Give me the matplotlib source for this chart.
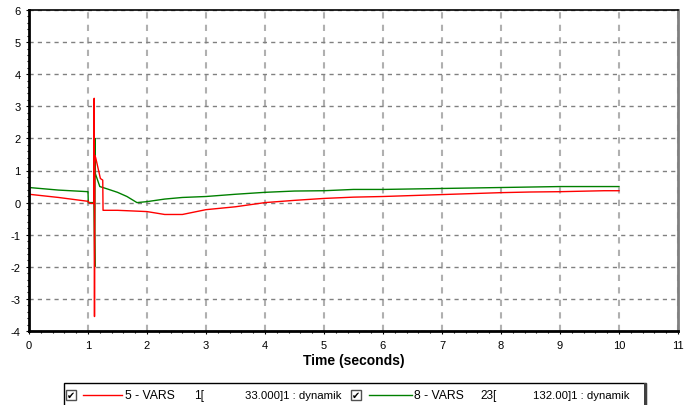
import matplotlib
matplotlib.use("Agg")
import matplotlib.pyplot as plt
from matplotlib.ticker import MultipleLocator
from matplotlib.patches import Rectangle
from matplotlib.lines import Line2D

plt.rcParams['font.family'] = ['Liberation Sans', 'DejaVu Sans']
plt.rcParams['axes.unicode_minus'] = False

# Series 5 - VARS (red)
red_t = [0, 0.5, 1.0, 1.03, 1.1, 1.105, 1.11, 1.115, 1.13, 1.21, 1.25, 1.255, 1.5, 2.0, 2.3,
         2.6, 3.0, 3.5, 4.0, 4.5, 5.0, 5.5, 6.0, 6.5, 7.0, 7.5, 8.0, 8.5, 9.0, 9.75, 10.0]
red_v = [0.26, 0.16, 0.04, -0.02, -0.03, 3.25, -3.55, 1.47, 1.40, 0.75, 0.70, -0.24, -0.24,
         -0.28, -0.37, -0.37, -0.22, -0.13, 0.0, 0.07, 0.13, 0.17, 0.19, 0.22, 0.25, 0.28,
         0.31, 0.33, 0.34, 0.37, 0.37]

# Series 8 - VARS (green)
green_t = [0, 0.5, 1.0, 1.005, 1.1, 1.115, 1.12, 1.125, 1.2, 1.32, 1.5, 1.66, 1.83, 2.0, 2.3,
           2.6, 3.0, 3.5, 4.0, 4.5, 5.0, 5.5, 6.0, 7.0, 8.0, 9.0, 10.0]
green_v = [0.47, 0.39, 0.34, 0.0, 0.0, -2.0, 2.0, 0.9, 0.5, 0.43, 0.32, 0.19, 0.0, 0.03, 0.11,
           0.16, 0.19, 0.26, 0.32, 0.36, 0.37, 0.41, 0.41, 0.44, 0.47, 0.5, 0.5]

x_ticks = list(range(0, 12))
y_ticks = list(range(-4, 7))
x_label = "Time (seconds)"
legend_items = [
    ("5 - VARS", "1[", "33.000]1 : dynamik", "#ff0000"),
    ("8 - VARS", "23[", "132.00]1 : dynamik", "#008000"),
]

W, H = 693, 406
fig = plt.figure(figsize=(W / 100, H / 100), dpi=100)
fig.patch.set_facecolor("white")
ax = fig.add_axes([29 / W, 1 - 332 / H, (678 - 29) / W, (332 - 11) / H])

ax.plot(green_t, green_v, color="#008000", lw=1.0)
ax.plot(red_t, red_v, color="#ff0000", lw=1.0)

ax.set_xlim(0, 11)
ax.set_ylim(-4, 6)
ax.set_xticks(x_ticks)
ax.set_yticks(y_ticks)
ax.xaxis.set_minor_locator(MultipleLocator(0.2))
ax.yaxis.set_minor_locator(MultipleLocator(0.2))
ax.tick_params(which="both", labelsize=8, colors="black", length=2.5, width=0.8)
ax.tick_params(which="minor", length=1.5)
ax.tick_params(axis="x", pad=4)
ax.tick_params(axis="y", pad=3.5)
ax.grid(True, axis="y", linestyle=(0, (3, 3)), color="#808080", lw=1.0)
ax.grid(True, axis="x", linestyle=(0, (3, 3)), color="#b0b0b0", lw=1.5)

for s in ["left", "bottom"]:
    ax.spines[s].set_linewidth(2.0)
    ax.spines[s].set_color("black")
ax.spines["top"].set_linewidth(1.2)
ax.spines["top"].set_color("black")
ax.spines["right"].set_linewidth(2.0)
ax.spines["right"].set_color("#808080")

ax.set_xlabel(x_label, fontsize=10, fontweight="bold", labelpad=2)

# Legend panel drawn in figure pixels
def fx(px):
    return px / W

def fy(py):
    return 1 - py / H

fig.patches.append(Rectangle((fx(64), fy(410)), fx(646) - fx(64), fy(384) - fy(410),
                             transform=fig.transFigure, fill=False, edgecolor="black", lw=1.0))
fig.patches.append(Rectangle((fx(644), fy(410)), fx(647) - fx(644), fy(384) - fy(410),
                             transform=fig.transFigure, fill=True, facecolor="#404040", lw=0))

ty = 396
entries_x = [
    dict(cb=66, l0=83, l1=122, name=125, idx=194, val=245),
    dict(cb=351, l0=369, l1=412, name=414, idx=480, val=533),
]
for (name, idx, val, col), e in zip(legend_items, entries_x):
    fig.patches.append(Rectangle((fx(e["cb"]), fy(ty + 5)), fx(10), fy(0) - fy(10),
                                 transform=fig.transFigure, fill=False, edgecolor="#505050", lw=1.0))
    fig.text(fx(e["cb"] + 5), fy(ty), "\u2714", fontsize=7, ha="center", va="center",
             family=["DejaVu Sans"])
    fig.lines.append(Line2D([fx(e["l0"]), fx(e["l1"])], [fy(ty), fy(ty)],
                            transform=fig.transFigure, color=col, lw=1.0))
    fig.text(fx(e["name"]), fy(ty), name, fontsize=8.8, va="center", ha="left")
    fig.text(fx(e["idx"]), fy(ty), idx, fontsize=8.5, va="center", ha="left")
    fig.text(fx(e["val"]), fy(ty), val, fontsize=8.2, va="center", ha="left")

fig.savefig("out.png", dpi=100)
